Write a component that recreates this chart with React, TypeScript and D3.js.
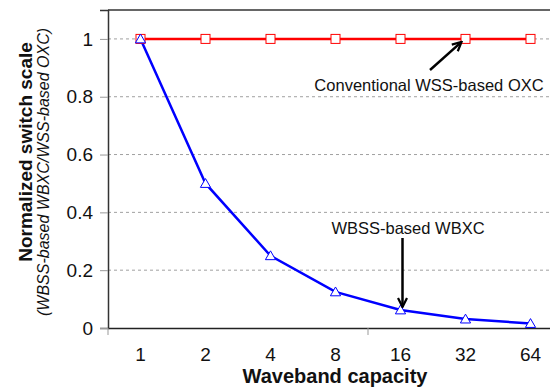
import React, { useEffect, useRef } from "react";
import * as d3 from "d3";

// categories on the x axis (waveband capacity)
const capacities = ["1", "2", "4", "8", "16", "32", "64"];
// conventional WSS-based OXC, always 1
const oxcValues = [1, 1, 1, 1, 1, 1, 1];
// WBSS-based WBXC
const wbxcValues = [1, 0.5, 0.25, 0.125, 0.0625, 0.031, 0.0156];
const yTicks = [0, 0.2, 0.4, 0.6, 0.8, 1];

const W = 550;
const H = 387;
const font = "Liberation Sans, Arial, sans-serif";

function App() {
  const svgRef = useRef<SVGSVGElement>(null);

  useEffect(() => {
    const svg = d3.select(svgRef.current);
    svg.selectAll("*").remove();

    const left = 108;
    const top = 10;
    const bottom = 328;
    const bandW = 65;

    // band scale, plot runs off the right edge like the original
    const x = d3
      .scaleBand()
      .domain(capacities)
      .range([left, left + bandW * capacities.length])
      .padding(0);
    const cx = (d: string) => (x(d) as number) + x.bandwidth() / 2;

    const y = d3.scaleLinear().domain([0, 1.1]).range([bottom, top]);

    // grid lines
    svg
      .append("g")
      .selectAll("line")
      .data(yTicks.filter((t) => t > 0))
      .join("line")
      .attr("x1", left)
      .attr("x2", W)
      .attr("y1", (d) => y(d))
      .attr("y2", (d) => y(d))
      .attr("stroke", "#a0a0a0")
      .attr("stroke-dasharray", "3,3")
      .attr("stroke-width", 1);

    // top frame
    svg
      .append("line")
      .attr("x1", left)
      .attr("x2", W)
      .attr("y1", top)
      .attr("y2", top)
      .attr("stroke", "#333")
      .attr("stroke-width", 1.5);

    // y axis
    const yAxis = d3
      .axisLeft(y)
      .tickValues(yTicks)
      .tickSize(8)
      .tickPadding(7)
      .tickFormat((d) => d3.format("")(d as number));
    const gy = svg.append("g").attr("transform", `translate(${left},0)`).call(yAxis);
    gy.select(".domain").attr("stroke", "#333").attr("stroke-width", 1.5);
    gy.selectAll(".tick line").attr("stroke", "#999");
    gy.selectAll(".tick text")
      .attr("font-family", font)
      .attr("font-size", 19)
      .attr("fill", "#111");

    // x axis: ticks only every 4 categories
    const xAxis = d3.axisBottom(x).tickSize(0).tickPadding(20);
    const gx = svg.append("g").attr("transform", `translate(0,${bottom})`).call(xAxis);
    gx.select(".domain").attr("stroke", "#222").attr("stroke-width", 1.5);
    gx.selectAll(".tick text")
      .attr("font-family", font)
      .attr("font-size", 19)
      .attr("fill", "#111");
    svg
      .append("g")
      .selectAll("line")
      .data([0, 4])
      .join("line")
      .attr("x1", (i) => left + i * bandW)
      .attr("x2", (i) => left + i * bandW)
      .attr("y1", bottom)
      .attr("y2", bottom + 7)
      .attr("stroke", "#999");

    const line = d3
      .line<number>()
      .x((_, i) => cx(capacities[i]))
      .y((d) => y(d));

    // red series
    svg
      .append("path")
      .datum(oxcValues)
      .attr("d", line)
      .attr("fill", "none")
      .attr("stroke", "#ff0000")
      .attr("stroke-width", 2.5);

    // blue series
    svg
      .append("path")
      .datum(wbxcValues)
      .attr("d", line)
      .attr("fill", "none")
      .attr("stroke", "#0000ff")
      .attr("stroke-width", 2.5);

    svg
      .append("g")
      .selectAll("rect")
      .data(oxcValues)
      .join("rect")
      .attr("x", (_, i) => cx(capacities[i]) - 4.5)
      .attr("y", (d) => y(d) - 4.5)
      .attr("width", 9)
      .attr("height", 9)
      .attr("fill", "white")
      .attr("stroke", "#ff0000")
      .attr("stroke-width", 1);

    const tri = d3.symbol().type(d3.symbolTriangle).size(45);
    svg
      .append("g")
      .selectAll("path")
      .data(wbxcValues)
      .join("path")
      .attr("d", tri)
      .attr("transform", (d, i) => `translate(${cx(capacities[i])},${y(d) + 1})`)
      .attr("fill", "white")
      .attr("stroke", "#0000ff")
      .attr("stroke-width", 1);

    // annotations
    const defs = svg.append("defs");
    defs
      .append("marker")
      .attr("id", "arr")
      .attr("viewBox", "0 0 10 10")
      .attr("refX", 9)
      .attr("refY", 5)
      .attr("markerWidth", 4.5)
      .attr("markerHeight", 4.5)
      .attr("orient", "auto")
      .append("path")
      .attr("d", "M1,1 L9,5 L1,9")
      .attr("fill", "none")
      .attr("stroke", "black")
      .attr("stroke-width", 2);

    svg
      .append("line")
      .attr("x1", 430)
      .attr("y1", 70)
      .attr("x2", cx("32") - 4)
      .attr("y2", y(1) + 3)
      .attr("stroke", "black")
      .attr("stroke-width", 2.5)
      .attr("marker-end", "url(#arr)");
    svg
      .append("text")
      .attr("x", 429)
      .attr("y", 91)
      .attr("text-anchor", "middle")
      .attr("font-family", font)
      .attr("font-size", 16.5)
      .attr("fill", "#111")
      .text("Conventional WSS-based OXC");

    svg
      .append("line")
      .attr("x1", cx("16") + 2)
      .attr("y1", 238)
      .attr("x2", cx("16") + 2)
      .attr("y2", y(wbxcValues[4]) - 3)
      .attr("stroke", "black")
      .attr("stroke-width", 2.5)
      .attr("marker-end", "url(#arr)");
    svg
      .append("text")
      .attr("x", 408)
      .attr("y", 234)
      .attr("text-anchor", "middle")
      .attr("font-family", font)
      .attr("font-size", 16.5)
      .attr("fill", "#111")
      .text("WBSS-based WBXC");

    // axis titles
    svg
      .append("text")
      .attr("x", 335)
      .attr("y", 383)
      .attr("text-anchor", "middle")
      .attr("font-family", font)
      .attr("font-size", 20)
      .attr("font-weight", "bold")
      .attr("fill", "#111")
      .text("Waveband capacity");

    svg
      .append("text")
      .attr("transform", "translate(32,152) rotate(-90)")
      .attr("text-anchor", "middle")
      .attr("font-family", font)
      .attr("font-size", 19)
      .attr("font-weight", "bold")
      .attr("fill", "#111")
      .text("Normalized switch scale");

    svg
      .append("text")
      .attr("transform", "translate(49,172) rotate(-90)")
      .attr("text-anchor", "middle")
      .attr("font-family", font)
      .attr("font-size", 16)
      .attr("font-style", "italic")
      .attr("fill", "#111")
      .text("(WBSS-based WBXC/WSS-based OXC)");
  }, []);

  return (
    <svg
      ref={svgRef}
      width={W}
      height={H}
      style={{ position: "absolute", left: 0, top: 0, background: "white" }}
    />
  );
}

export default App;
